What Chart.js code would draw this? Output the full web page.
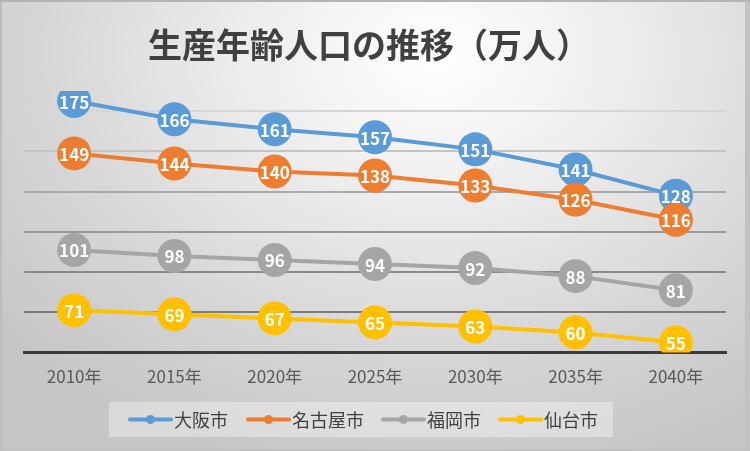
<!DOCTYPE html>
<html><head><meta charset="utf-8">
<script src="https://cdn.jsdelivr.net/npm/chart.js@4.4.0/dist/chart.umd.min.js"></script>
<style>
html,body{margin:0;padding:0;}
#wrap{position:relative;width:750px;height:451px;
background:radial-gradient(ellipse 75% 95% at 58% 12%, #ffffff 0%, #ececec 35%, #d6d6d6 70%, #c6c6c6 100%);
box-shadow: inset 0 2px 0 #b4b4b4, inset -5px 0 0 #c2c2c2, inset 2px 0 0 #bdbdbd, inset 0 -2px 0 #c0c0c0;}
canvas{position:absolute;left:0;top:0;}
</style></head>
<body><div id="wrap"><canvas id="c" width="750" height="451"></canvas></div>
<script>
const titleText = '生産年齢人口の推移（万人）';
const categories = ['2010年','2015年','2020年','2025年','2030年','2035年','2040年'];
const seriesNames = ['大阪市','名古屋市','福岡市','仙台市'];
const osaka   = [175,166,161,157,151,141,128];
const nagoya  = [149,144,140,138,133,126,116];
const fukuoka = [101,98,96,94,92,88,81];
const sendai  = [71,69,67,65,63,60,55];
const colors = ['#5B9BD5','#ED7D31','#A5A5A5','#FFC000'];
const yMin = 50, yMax = 180;
const yTicks = [50,70,90,110,130,150,170];

const FONT = '"Noto Sans CJK JP", "Noto Sans", sans-serif';
const seriesData = [osaka, nagoya, fukuoka, sendai];

// one colour per y tick: 50,70,90,110,130,150,170
const gridColors = ['rgba(0,0,0,0)','#7c7c7c','#8a8a8a','#999999','#a9a9a9','#c4c4c4','#d6d6d6'];

const chromePlugin = {
  id:'chrome',
  afterDatasetsDraw(chart){
    const ctx = chart.ctx;
    ctx.save();
    ctx.font = 'bold 17px ' + FONT;
    ctx.fillStyle = '#ffffff';
    ctx.textAlign = 'center';
    ctx.textBaseline = 'middle';
    chart.data.datasets.forEach((ds,i)=>{
      const meta = chart.getDatasetMeta(i);
      meta.data.forEach((pt,j)=>{
        ctx.fillText(String(ds.data[j]), pt.x, pt.y+1);
      });
    });
    ctx.restore();
  },
  afterDraw(chart){
    const ctx = chart.ctx;
    ctx.save();
    // title
    ctx.font = 'bold 34px ' + FONT;
    ctx.fillStyle = '#404040';
    ctx.textAlign = 'left';
    ctx.textBaseline = 'middle';
    ctx.fillText(titleText, 148, 45);
    // legend
    ctx.fillStyle = 'rgba(255,255,255,0.35)';
    ctx.fillRect(109, 402, 504, 35);
    const xs = [130, 248, 383, 500];
    ctx.font = '18px ' + FONT;
    chart.data.datasets.forEach((ds,i)=>{
      const x = xs[i], y = 419.5;
      ctx.strokeStyle = ds.borderColor;
      ctx.lineWidth = 4;
      ctx.lineCap = 'round';
      ctx.beginPath(); ctx.moveTo(x, y); ctx.lineTo(x+41, y); ctx.stroke();
      ctx.fillStyle = ds.borderColor;
      ctx.beginPath(); ctx.arc(x+20.5, y, 4.5, 0, Math.PI*2); ctx.fill();
      ctx.fillStyle = '#404040';
      ctx.textAlign = 'left';
      ctx.fillText(ds.label, x+44, y+1);
    });
    ctx.restore();
  }
};

new Chart(document.getElementById('c'), {
  type:'line',
  data:{
    labels: categories,
    datasets: seriesNames.map((n,i)=>({
      label:n, data:seriesData[i],
      borderColor:colors[i], backgroundColor:colors[i],
      pointBackgroundColor:colors[i], pointBorderColor:colors[i],
      borderWidth:4, pointRadius:17, pointBorderWidth:0, pointHoverRadius:17,
      tension:0, order:4-i
    }))
  },
  plugins:[chromePlugin],
  options:{
    responsive:false, animation:false,
    layout:{padding:{left:24,right:24,top:91,bottom:50}},
    plugins:{legend:{display:false}, title:{display:false}, tooltip:{enabled:false}},
    scales:{
      x:{
        offset:true,
        grid:{display:false, drawTicks:false},
        border:{display:true, color:'#3a3a3a', width:3},
        ticks:{color:'#595959', font:{family:FONT, size:17}, padding:14}
      },
      y:{
        min:yMin, max:yMax,
        afterBuildTicks:(scale)=>{ scale.ticks = yTicks.map(v=>({value:v})); },
        ticks:{display:false},
        border:{display:false},
        grid:{display:true, drawTicks:false, lineWidth:2, color:gridColors}
      }
    }
  }
});
</script></body></html>
